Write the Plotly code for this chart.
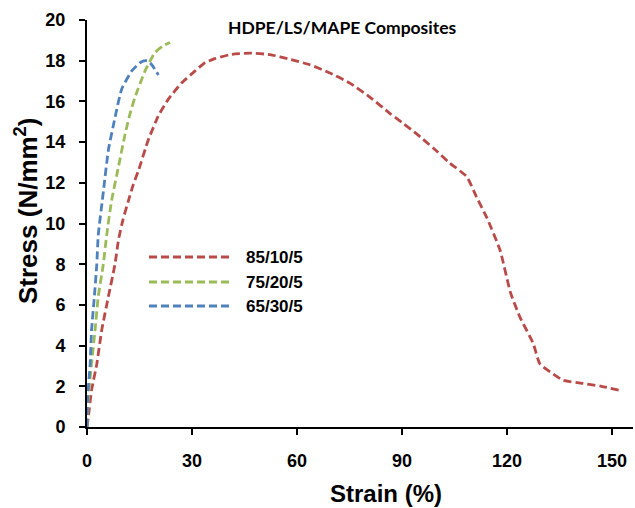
import plotly.graph_objects as go

# ---- data (strain %, stress N/mm^2) ----
series_names = ["85/10/5", "75/20/5", "65/30/5"]
colors = ["#B94A48", "#9BBB59", "#4F81BD"]

strain_85 = [0, 0.4, 1.3, 2.8, 4.2, 6.1, 8.0, 9.0, 10.3, 11.8, 13.2, 14.7, 17.5, 20.4, 23.2, 27.0, 30.9, 33.7, 36.5, 40.9, 46.6, 52.3, 58.0, 63.7, 69.4, 75.1, 80.9, 86.6, 90.5, 94.2, 99.0, 103.7, 108.5, 111.3, 114.2, 118.0, 121.0, 123.7, 127.5, 129.4, 133.2, 136.0, 141.8, 147.0, 152.3]
stress_85 = [0, 0.5, 1.8, 3.1, 4.75, 6.4, 8.0, 9.2, 10.2, 11.1, 11.9, 12.6, 14.1, 15.3, 16.1, 16.9, 17.5, 17.9, 18.1, 18.3, 18.37, 18.3, 18.07, 17.8, 17.4, 16.9, 16.2, 15.4, 14.9, 14.4, 13.7, 12.96, 12.3, 11.3, 10.3, 8.7, 6.6, 5.4, 4.1, 3.1, 2.6, 2.3, 2.14, 2.0, 1.8]

strain_75 = [0, 0.4, 1.3, 2.3, 3.2, 4.66, 5.6, 7.0, 9.0, 10.9, 12.3, 13.7, 16.6, 19.4, 21.5, 23.7]
stress_75 = [0, 1.5, 3.1, 4.75, 6.4, 8.0, 9.4, 11.1, 12.8, 14.4, 15.4, 16.2, 17.5, 18.4, 18.7, 18.9]

strain_65 = [0, 0.2, 0.9, 1.3, 2.1, 2.8, 3.2, 4.7, 6.1, 8.0, 9.9, 12.8, 15.6, 17.2, 18.5, 20.4]
stress_65 = [0, 1.5, 3.1, 4.75, 6.4, 8.0, 9.4, 11.6, 13.6, 15.2, 16.6, 17.5, 17.95, 18.0, 17.8, 17.3]

x_ticks = [0, 30, 60, 90, 120, 150]
y_ticks = [0, 2, 4, 6, 8, 10, 12, 14, 16, 18, 20]

title_text = "HDPE/LS/MAPE Composites"
x_title = "Strain (%)"
y_title = "Stress (N/mm<sup>2</sup>)"

FONT = "Liberation Sans, Arial, sans-serif"
W, H = 635, 508

fig = go.Figure()
all_x = [strain_85, strain_75, strain_65]
all_y = [stress_85, stress_75, stress_65]
for name, c, xs, ys in zip(series_names, colors, all_x, all_y):
    fig.add_trace(go.Scatter(
        x=xs, y=ys, mode="lines", name=name,
        line=dict(color=c, width=2.8, dash="8px,4px", shape="spline", smoothing=0.5),
        showlegend=False,
    ))

# manual legend (long sample lines like the reference)
legend_y = [257, 282, 306]  # pixel rows
for name, c, py in zip(series_names, colors, legend_y):
    yp = 1 - py / H
    fig.add_shape(type="line", xref="paper", yref="paper",
                  x0=149 / W, x1=230 / W, y0=yp, y1=yp,
                  line=dict(color=c, width=2.8, dash="8px,4px"))
    fig.add_annotation(xref="paper", yref="paper", x=244 / W, y=yp,
                       xanchor="left", yanchor="middle", showarrow=False,
                       text=name, font=dict(family=FONT, size=17, color="black", weight="bold"))

fig.update_layout(
    width=W, height=H,
    margin=dict(l=0, r=0, t=0, b=0, autoexpand=False),
    paper_bgcolor="white", plot_bgcolor="white",
    showlegend=False,
)
fig.update_xaxes(
    domain=[87 / W, 633 / W], range=[0, 156], tickvals=x_ticks, automargin=False,
    showgrid=False, zeroline=False, showline=True, linecolor="black", linewidth=2,
    ticks="outside", ticklen=6, tickwidth=2, tickcolor="black",
    tickfont=dict(family=FONT, size=18, color="black", weight="bold"),
    ticklabelstandoff=10,
)
fig.update_yaxes(
    domain=[1 - 427 / H, 1 - 20 / H], range=[0, 20], tickvals=y_ticks, automargin=False,
    showgrid=False, zeroline=False, showline=True, linecolor="black", linewidth=2,
    ticks="outside", ticklen=6, tickwidth=2, tickcolor="black",
    tickfont=dict(family=FONT, size=18, color="black", weight="bold"),
    ticklabelstandoff=10,
)

fig.add_annotation(xref="paper", yref="paper", x=342 / W, y=1 - 27 / H,
                   xanchor="center", yanchor="middle", showarrow=False,
                   text=title_text, font=dict(family="Lato, sans-serif", size=17.5, color="black", weight="bold"))
fig.add_annotation(xref="paper", yref="paper", x=386 / W, y=1 - 493 / H,
                   xanchor="center", yanchor="middle", showarrow=False,
                   text=x_title, font=dict(family=FONT, size=24, color="black", weight="bold"))
fig.add_annotation(xref="paper", yref="paper", x=27 / W, y=1 - 211 / H,
                   xanchor="center", yanchor="middle", showarrow=False, textangle=-90,
                   text=y_title, font=dict(family=FONT, size=26, color="black", weight="bold"))

fig.write_html("out.html")
